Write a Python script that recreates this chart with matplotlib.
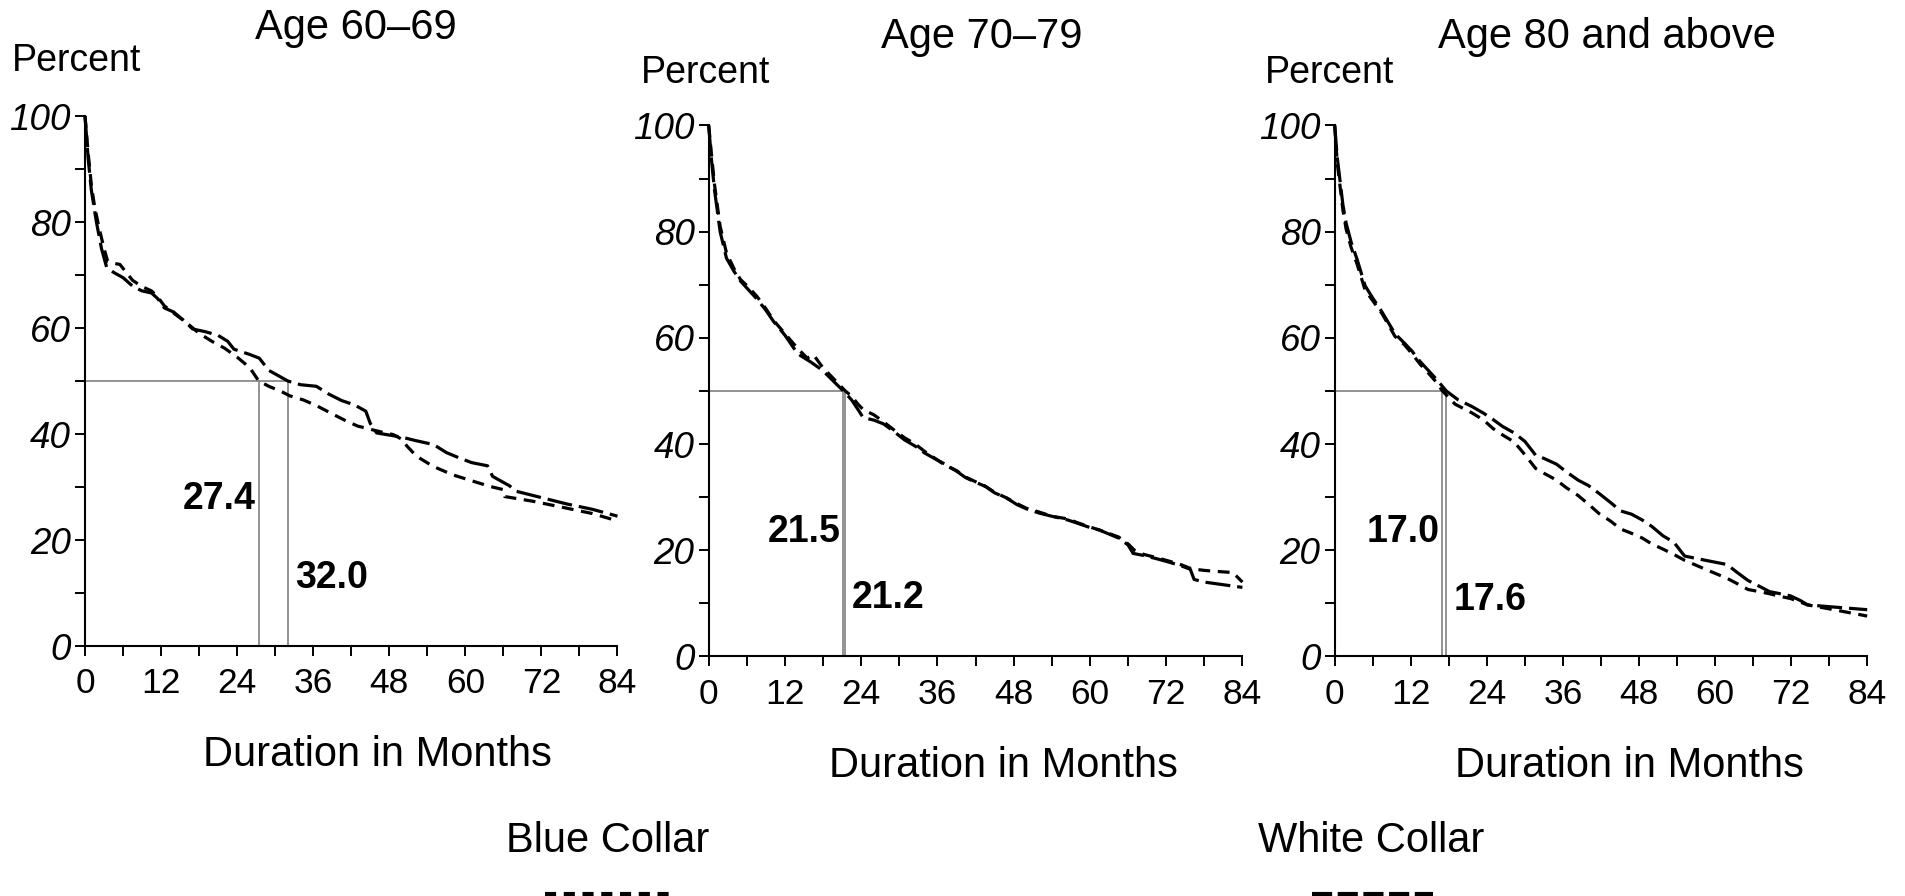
import matplotlib
matplotlib.use("Agg")
import matplotlib.pyplot as plt
import matplotlib.font_manager as fm
from matplotlib.lines import Line2D
from matplotlib.ticker import MultipleLocator

# ---------------- data ----------------
titles = ["Age 60\u201369", "Age 70\u201379", "Age 80 and above"]

p1_blue_x = [0, 0.5, 1, 1.5, 2.2, 3, 3.6, 4.5, 5.5, 6.5, 7.5, 9, 10.5, 11.5, 12.5, 14, 16, 18, 20, 22, 24, 26,
             27.4, 29, 31, 32.3, 34.5, 36.6, 39, 41.3, 43, 45, 47, 48.6, 50, 50.8, 52.3, 54.9, 58, 61.2, 63.9,
             66, 66.2, 70.7, 76, 80, 84]
p1_blue_y = [100, 93, 87, 83, 79, 75, 72.5, 72.2, 72, 70.5, 69, 67.8, 67, 65.8, 64.2, 62.8, 61, 59, 57.5, 56.2,
             54.5, 52.5, 50, 49, 48, 47.2, 46.4, 45.3, 43.8, 42.4, 41.5, 40.9, 40.3, 39.9, 39, 37.7, 35.8, 33.9,
             32.3, 31.1, 30.1, 29.5, 28.2, 27.3, 26, 25, 23.6]
p1_white_x = [0, 0.5, 1, 1.8, 2.6, 3.4, 4.5, 6, 7.6, 9, 10.5, 11.5, 12.5, 14, 15.5, 17, 19, 21, 22.5, 23.5, 26,
              27.5, 29, 30.5, 32, 34, 36.5, 38.5, 40.5, 42.5, 44.3, 45, 46, 48, 50, 52, 55, 57, 59, 61, 63.5,
              64.3, 65.5, 67, 68, 72, 76, 80, 84]
p1_white_y = [100, 92, 86, 80, 75, 71.5, 70.5, 69.5, 67.8, 67, 66.6, 65.5, 63.8, 63, 61.5, 59.8, 59.3, 58.6, 57.5,
              56, 55, 54.3, 52, 51, 50, 49.3, 49, 47.5, 46.3, 45.5, 44.3, 42, 40.2, 39.8, 39.4, 38.8, 38, 36.5,
              35.5, 34.6, 34.0, 32, 31.2, 30.2, 29.2, 28, 26.8, 25.8, 24.5]

p2_blue_x = [0, 0.4, 0.9, 1.8, 2.8, 4, 5, 6.3, 7.6, 9, 10.2, 12, 14, 15.5, 16.5, 17.9, 19.5, 21.5, 22.5, 23.5,
             24.3, 26, 27.5, 29, 30.8, 32.5, 34, 35.5, 37.2, 39, 40.4, 42, 43.6, 45, 46.8, 48.5, 50, 52, 54,
             56.5, 58, 59.7, 61.5, 62.9, 64.5, 66, 67, 68.5, 70.5, 72.6, 74.5, 76, 78, 80, 82.5, 84]
p2_blue_y = [100, 95, 89, 81, 76, 73, 71, 69.5, 67.8, 65.5, 63.3, 60.8, 58, 56.2, 56.8, 54.5, 52.5, 50, 49, 47.5,
             46.5, 45.5, 44.2, 42.8, 41.2, 40, 38.6, 37.4, 36, 35, 33.8, 32.9, 32, 30.9, 29.9, 28.8, 27.9, 27.2,
             26.4, 25.9, 25.2, 24.5, 23.8, 23.2, 22.5, 21.2, 20, 19.2, 18.6, 17.9, 17.2, 16.5, 16.2, 16, 15.8, 14]
p2_white_x = [0, 0.4, 0.9, 1.8, 2.8, 4, 5, 6.3, 7.6, 9, 10.2, 12, 14, 16, 17.9, 19.5, 21.2, 22.5, 23.5, 24.3,
              26, 27.5, 29, 30.8, 32.5, 34, 35.5, 37.2, 39, 40.4, 42, 43.6, 45, 46.8, 48.5, 50, 52, 54, 56.5,
              58, 59.7, 61.5, 62.9, 64.5, 66, 66.8, 68.5, 70.5, 72.6, 74.5, 75.8, 76.4, 78, 81, 84]
p2_white_y = [100, 94, 88, 80, 75, 72.5, 70.7, 69, 67.3, 65.2, 63.1, 60.5, 57, 55.5, 53.9, 52, 50, 48.3, 46.5,
              45, 44.5, 43.8, 42.5, 40.8, 39.6, 38.3, 37.3, 36.2, 34.9, 33.7, 32.8, 32, 30.8, 29.9, 28.6, 27.8,
              27, 26.4, 25.7, 25.1, 24.4, 23.8, 23.1, 22.3, 21, 19.4, 19, 18.4, 17.7, 17, 16.4, 14.5, 14, 13.5, 13]

p3_blue_x = [0, 0.4, 0.8, 1.3, 1.8, 2.6, 3.5, 4.8, 6, 7.5, 9.5, 11, 12.2, 13.5, 14.9, 16, 17.0, 19, 21.6, 23.5,
             25, 26.5, 28.3, 30, 31.7, 33, 35, 36.5, 38.4, 40, 41.7, 43.5, 45.1, 46.8, 48.5, 50, 51.8, 53.5,
             55.2, 58.5, 61.9, 63.5, 65.2, 67, 68.6, 70.3, 71.9, 73.5, 74.6, 78.7, 84]
p3_blue_y = [100, 93, 89, 84, 80.5, 77, 74, 69, 67, 64.5, 60.3, 58.7, 57, 55, 53.2, 51.7, 50, 47.5, 45.9, 44.5,
             42.9, 41.7, 40.4, 38, 35.4, 34.5, 33.2, 31.8, 30.3, 28.7, 26.9, 25.5, 24, 23.2, 22.3, 21.2, 20.2,
             19.2, 18.1, 16.4, 14.7, 13.7, 12.6, 12.2, 11.8, 11.3, 10.9, 10.2, 9.7, 8.8, 7.6]
p3_white_x = [0, 0.4, 0.8, 1.3, 1.8, 2.6, 3.5, 4.8, 6, 7.5, 9.5, 11, 12.2, 13.5, 14.9, 16.2, 17.6, 19.5, 21.6,
              23.5, 25, 26.5, 28.3, 30, 31.7, 33, 35, 36.5, 38.4, 40, 41.7, 43.5, 45.1, 46.8, 48.5, 50, 51.8,
              53.5, 55.2, 58.5, 61.9, 63.5, 65.2, 67, 68.6, 70.3, 71.9, 73.5, 74.6, 78.7, 84]
p3_white_y = [100, 94, 90, 85, 81.6, 78, 74.9, 69.8, 67.5, 64.8, 60.8, 59, 57.5, 55.5, 53.7, 52, 50, 48.3, 47.1,
              45.8, 44.6, 43.3, 42.1, 40.5, 37.9, 37.3, 36.2, 34.8, 33.2, 32.2, 30.7, 29, 27.4, 26.8, 25.7, 24.5,
              22.7, 21.5, 18.9, 18.1, 17.3, 15.8, 14.3, 13.2, 12.2, 11.8, 11.4, 10.5, 9.7, 9.3, 8.8]

# median durations (left label value, right label value)
median_left = [27.4, 21.5, 17.0]
median_right = [32.0, 21.2, 17.6]
label_left_y = [27.7, 23.4, 23.4]
label_right_y = [12.9, 11.0, 10.7]

x_ticks = [0, 12, 24, 36, 48, 60, 72, 84]
y_ticks = [0, 20, 40, 60, 80, 100]
legend_labels = ["Blue Collar", "White Collar"]

# ---------------- style ----------------
names = {f.name for f in fm.fontManager.ttflist}
narrow = "Liberation Sans Narrow" if "Liberation Sans Narrow" in names else "Liberation Sans"
plt.rcParams["font.family"] = ["Liberation Sans", "DejaVu Sans"]
plt.rcParams["lines.scale_dashes"] = False

W, H = 1906, 896
fig = plt.figure(figsize=(W / 100, H / 100), dpi=100)
fig.patch.set_facecolor("white")

def fx(x):
    return x / W

def fy(y):
    return 1 - y / H

# axes boxes in pixels: left, right, top(y100), bottom(y0)
boxes = [(85, 617.5, 116, 646), (708.7, 1242.4, 125.5, 656.4), (1334.7, 1867.2, 125.5, 656.4)]
title_pos = [(356, 28), (982, 37), (1607, 37)]
percent_pos = [(12, 61), (640.6, 73), (1265, 73)]
xlabel_pos = [(377, 755), (1003, 766), (1629, 766)]

blue_series = [(p1_blue_x, p1_blue_y), (p2_blue_x, p2_blue_y), (p3_blue_x, p3_blue_y)]
white_series = [(p1_white_x, p1_white_y), (p2_white_x, p2_white_y), (p3_white_x, p3_white_y)]

blue_dash = (0, (8.5, 5.5))
white_dash = (0, (18, 5))
LW = 2.3
GRAY = "#808080"

for i in range(3):
    l, r, t, b = boxes[i]
    ax = fig.add_axes([fx(l), fy(b), (r - l) / W, (b - t) / H])
    ax.set_xlim(0, 84)
    ax.set_ylim(0, 100)
    for s in ["top", "right"]:
        ax.spines[s].set_visible(False)
    for s in ["left", "bottom"]:
        ax.spines[s].set_linewidth(1.5)
    ax.xaxis.set_minor_locator(MultipleLocator(6))
    ax.yaxis.set_minor_locator(MultipleLocator(10))
    ax.set_xticks(x_ticks)
    ax.set_xticklabels([str(v) for v in x_ticks], fontfamily=narrow, fontsize=25.5)
    ax.set_yticks(y_ticks)
    ax.set_yticklabels([str(v) for v in y_ticks], fontstyle="italic", fontsize=26.5)
    ax.tick_params(axis="both", which="both", direction="out", length=7.2, width=1.4, color="black")
    ax.tick_params(axis="x", which="major", pad=8)
    ax.tick_params(axis="y", which="major", pad=3)

    # median reference lines
    mx = max(median_left[i], median_right[i])
    ax.plot([0, mx], [50, 50], color=GRAY, lw=1.2, zorder=2)
    for m in (median_left[i], median_right[i]):
        ax.plot([m, m], [0, 50], color=GRAY, lw=1.2, zorder=2)

    bx, by = blue_series[i]
    wx, wy = white_series[i]
    ax.plot(bx, by, color="black", lw=LW, linestyle=blue_dash, clip_on=False, zorder=3)
    ax.plot(wx, wy, color="black", lw=LW, linestyle=white_dash, clip_on=False, zorder=3)

    lo = min(median_left[i], median_right[i])
    ax.annotate(f"{median_left[i]:.1f}", xy=(lo, label_left_y[i]), xytext=(-2, 0),
                textcoords="offset points", ha="right", va="center", fontsize=27, fontweight="bold")
    ax.annotate(f"{median_right[i]:.1f}", xy=(mx, label_right_y[i]), xytext=(5, 0),
                textcoords="offset points", ha="left", va="center", fontsize=27, fontweight="bold")

    fig.text(fx(title_pos[i][0]), fy(title_pos[i][1]), titles[i], ha="center", va="center", fontsize=30)
    fig.text(fx(percent_pos[i][0]), fy(percent_pos[i][1]), "Percent", ha="left", va="center", fontsize=27)
    fig.text(fx(xlabel_pos[i][0]), fy(xlabel_pos[i][1]), "Duration in Months", ha="center", va="center",
             fontsize=30)

# legend at bottom
fig.text(fx(608), fy(841), legend_labels[0], ha="center", va="center", fontsize=30, fontfamily=narrow)
fig.text(fx(1371), fy(841), legend_labels[1], ha="center", va="center", fontsize=30, fontfamily=narrow)
fig.add_artist(Line2D([fx(545), fx(672)], [fy(894), fy(894)], color="black", lw=3,
                      linestyle=(0, (8, 5.5))))
fig.add_artist(Line2D([fx(1312), fx(1433)], [fy(894), fy(894)], color="black", lw=3,
                      linestyle=(0, (14.5, 4))))

fig.savefig("out.png", dpi=100, facecolor="white")
